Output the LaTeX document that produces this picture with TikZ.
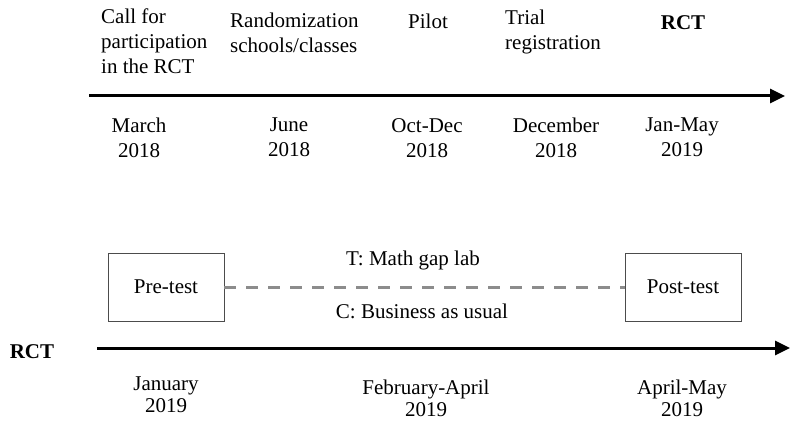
\documentclass[tikz,border=0pt]{standalone}
\usepackage{fontspec}
\setmainfont{Liberation Serif}
\usetikzlibrary{arrows.meta}

\begin{document}
\begin{tikzpicture}[x=1pt,y=-1pt,line cap=butt,
		txt/.style={inner sep=0pt,font=\fontsize{21}{25}\selectfont},
		lowdate/.style={inner sep=0pt,font=\fontsize{21}{22}\selectfont,anchor=north,align=center},
		axis/.style={line width=3pt,-{Triangle[length=15pt,width=14pt]}},
		testbox/.style={txt,draw=black!70,line width=0.8pt,minimum width=116pt,minimum height=68pt},
		dashline/.style={draw=black!45,line width=3pt,dash pattern=on 12pt off 10pt}]
	\useasboundingbox (0,0) rectangle (791,422);
	\coordinate (a1) at (89,96);
	\coordinate (a2) at (785,96);
	\draw[axis] (a1) -- (a2);
	\node[txt,anchor=north west,align=left] (call) at (101,9) {Call for\\participation\\in the RCT};
	\node[txt,anchor=north west,align=left] (rand) at (230,13) {Randomization\\schools/classes};
	\node[txt,anchor=north] (pilot) at (428,14) {Pilot};
	\node[txt,anchor=north west,align=left] (reg) at (505,10) {Trial\\registration};
	\node[txt,anchor=north,font=\fontsize{21}{25}\selectfont\bfseries] (rct) at (683,15) {RCT};
	\node[txt,anchor=north,align=center] (d1) at (139,118) {March\\2018};
	\node[txt,anchor=north,align=center] (d2) at (289,118) {June\\2018};
	\node[txt,anchor=north,align=center] (d3) at (427,118) {Oct-Dec\\2018};
	\node[txt,anchor=north,align=center] (d4) at (556,118) {December\\2018};
	\node[txt,anchor=north,align=center] (d5) at (682,118) {Jan-May\\2019};
	\coordinate (b1) at (97,348);
	\coordinate (b2) at (790,348);
	\draw[axis] (b1) -- (b2);
	\node[txt,anchor=base,font=\fontsize{21}{25}\selectfont\bfseries] (rctb) at (32,358) {RCT};
	\node[testbox] (pre) at (166,287) {Pre-test};
	\node[testbox] (post) at (683,287) {Post-test};
	\draw[dashline] (pre) -- (post);
	\node[txt,anchor=base] (treat) at (413,265) {T: Math gap lab};
	\node[txt,anchor=base] (ctrl) at (422,318) {C: Business as usual};
	\node[lowdate] (e1) at (166,377) {January\\2019};
	\node[lowdate] (e2) at (426,380) {February-April\\2019};
	\node[lowdate] (e3) at (682,380) {April-May\\2019};
\end{tikzpicture}
\end{document}
